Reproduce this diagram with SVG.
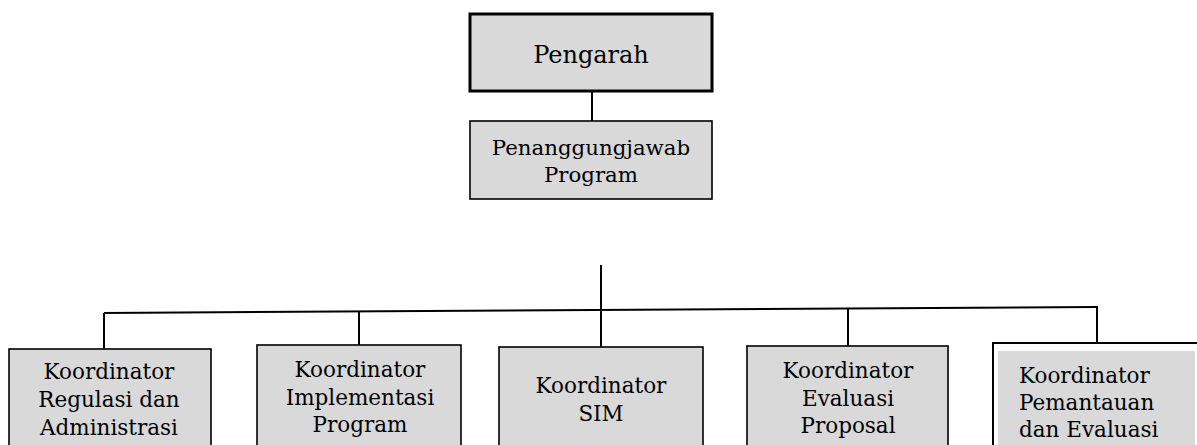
<svg xmlns="http://www.w3.org/2000/svg" width="1197" height="445" viewBox="0 0 1197 445">
<style>
.box{fill:#d9d9d9;stroke:#000;stroke-width:1.6}
.t{font-family:"DejaVu Serif","Liberation Serif",serif;font-size:21.5px;fill:#000;text-anchor:middle}
.c{stroke:#000;stroke-width:2;fill:none}
</style>
<rect width="1197" height="445" fill="#fff"/>
<g id="connectors">
<line class="c" x1="592" y1="91" x2="592" y2="122"/>
<line class="c" x1="601" y1="265" x2="601" y2="347"/>
<line class="c" x1="104" y1="313" x2="1098" y2="307"/>
<line class="c" x1="104" y1="313" x2="104" y2="349"/>
<line class="c" x1="359" y1="312" x2="359" y2="346"/>
<line class="c" x1="848" y1="308" x2="848" y2="346"/>
<line class="c" x1="1097" y1="307" x2="1097" y2="344"/>
</g>
<g id="pengarah">
<rect x="470" y="14" width="242" height="77" fill="#d9d9d9" stroke="#000" stroke-width="3"/>
<text class="t" x="591" y="63" style="font-size:24px">Pengarah</text>
</g>
<g id="penanggungjawab">
<rect class="box" x="470" y="121" width="242" height="78" stroke-width="2"/>
<text class="t" x="591" y="155" style="font-size:21.3px">Penanggungjawab</text>
<text class="t" x="591" y="182" style="font-size:21.3px">Program</text>
</g>
<g id="koord-regulasi">
<rect class="box" x="9" y="349" width="202" height="110"/>
<text class="t" x="109" y="379">Koordinator</text>
<text class="t" x="109" y="407">Regulasi dan</text>
<text class="t" x="109" y="435">Administrasi</text>
</g>
<g id="koord-implementasi">
<rect class="box" x="257" y="345" width="204" height="110"/>
<text class="t" x="360" y="377">Koordinator</text>
<text class="t" x="360" y="405">Implementasi</text>
<text class="t" x="360" y="432">Program</text>
</g>
<g id="koord-sim">
<rect class="box" x="499" y="347" width="204" height="110"/>
<text class="t" x="601" y="393">Koordinator</text>
<text class="t" x="601" y="421">SIM</text>
</g>
<g id="koord-evaluasi">
<rect class="box" x="747" y="346" width="201" height="110"/>
<text class="t" x="848" y="378">Koordinator</text>
<text class="t" x="848" y="406">Evaluasi</text>
<text class="t" x="848" y="433">Proposal</text>
</g>
<g id="koord-pemantauan">
<path d="M993 460 V343 H1197" fill="none" stroke="#000" stroke-width="2"/>
<rect x="998" y="351" width="197" height="100" fill="#d9d9d9"/>
<text class="t" x="1019" y="383" style="text-anchor:start">Koordinator</text>
<text class="t" x="1019" y="410" style="text-anchor:start">Pemantauan</text>
<text class="t" x="1019" y="437" style="text-anchor:start">dan Evaluasi</text>
</g>
</svg>
